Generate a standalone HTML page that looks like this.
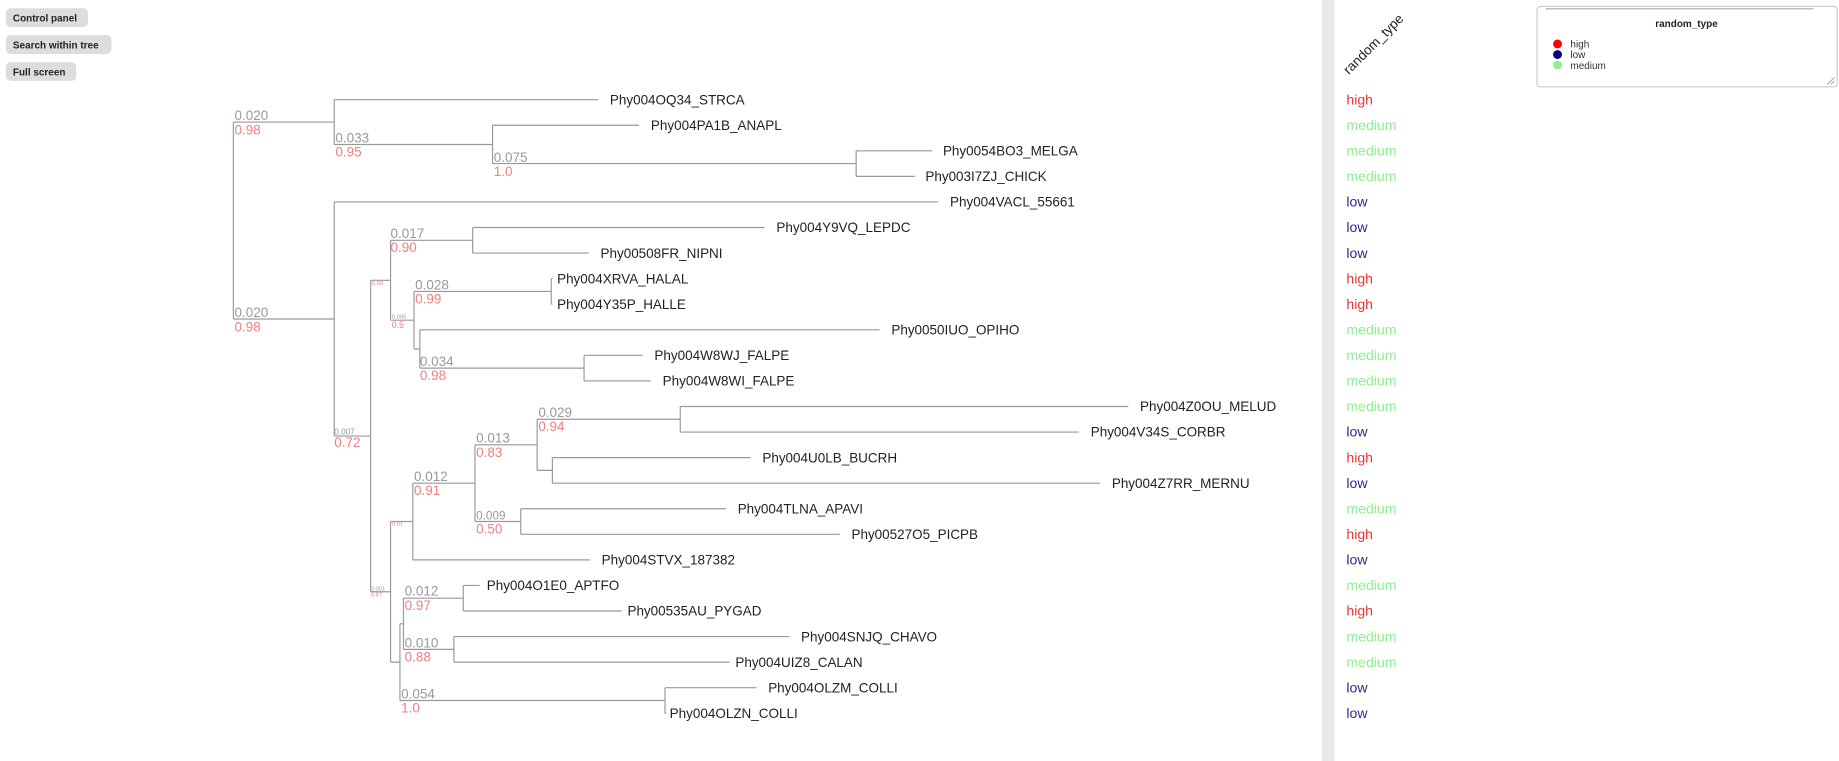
<!DOCTYPE html>
<html><head><meta charset="utf-8"><style>
html,body{margin:0;padding:0;background:#fff;width:1839px;height:761px;overflow:hidden}
svg{display:block}
text{font-family:"Liberation Sans",Arial,sans-serif}
.lf{font-size:11.5px;fill:#222}
.g{font-size:11.5px;fill:#999}
.r{font-size:11.5px;fill:#f08080}
.v{font-size:12px}
</style></head><body>
<svg width="1839" height="761" viewBox="0 0 1568 648.9" preserveAspectRatio="none">
<rect x="5" y="7" width="70" height="16" rx="4" fill="#ddd"/>
<text x="11" y="18.5" font-size="8.5" font-weight="bold" fill="#222">Control panel</text>
<rect x="5" y="30" width="90" height="16" rx="4" fill="#ddd"/>
<text x="11" y="41.5" font-size="8.5" font-weight="bold" fill="#222">Search within tree</text>
<rect x="5" y="53" width="60" height="16" rx="4" fill="#ddd"/>
<text x="11" y="64.5" font-size="8.5" font-weight="bold" fill="#222">Full screen</text>

<g stroke="#999" stroke-width="1" fill="none">
<path d="M199,104.1V272M199,104.1H285M199,272H285"/>
<path d="M285,85V123.2M285,85H510M285,123.2H420"/>
<path d="M420,106.8V139.5M420,106.8H545M420,139.5H730"/>
<path d="M730,128.6V150.4M730,128.6H795M730,150.4H780"/>
<path d="M285,172.2V371.8M285,172.2H800M285,371.8H316"/>
<path d="M316,239V504.6M316,239H333M316,504.6H333"/>
<path d="M333,204.9V273M333,204.9H403M333,273H353"/>
<path d="M403,194V215.8M403,194H652M403,215.8H502"/>
<path d="M353,248.5V297.6M353,248.5H470M353,297.6H358"/>
<path d="M470,237.6V259.4M470,237.6H471M470,259.4H471"/>
<path d="M358,281.2V313.9M358,281.2H750M358,313.9H498"/>
<path d="M498,303V324.8M498,303H548M498,324.8H555"/>
<path d="M333,444.7V564.6M333,444.7H352M333,564.6H341"/>
<path d="M352,412V477.4M352,412H405M352,477.4H503"/>
<path d="M405,379.3V444.7M405,379.3H458M405,444.7H444"/>
<path d="M458,357.5V401.1M458,357.5H580M458,401.1H471"/>
<path d="M580,346.6V368.4M580,346.6H962M580,368.4H920"/>
<path d="M471,390.2V412M471,390.2H640M471,412H938"/>
<path d="M444,433.8V455.6M444,433.8H619M444,455.6H716"/>
<path d="M341,531.9V597.3M341,531.9H344M341,597.3H567"/>
<path d="M344,510.1V553.7M344,510.1H395M344,553.7H387"/>
<path d="M395,499.2V521M395,499.2H409M395,521H530"/>
<path d="M387,542.8V564.6M387,542.8H673M387,564.6H622"/>
<path d="M567,586.4V608.2M567,586.4H645M567,608.2H568"/>
</g>

<g class="lf">
<text x="520" y="89">Phy004OQ34_STRCA</text>
<text x="555" y="110.8">Phy004PA1B_ANAPL</text>
<text x="804" y="132.6">Phy0054BO3_MELGA</text>
<text x="789" y="154.4">Phy003I7ZJ_CHICK</text>
<text x="810" y="176.2">Phy004VACL_55661</text>
<text x="662" y="198">Phy004Y9VQ_LEPDC</text>
<text x="512" y="219.8">Phy00508FR_NIPNI</text>
<text x="475" y="241.6">Phy004XRVA_HALAL</text>
<text x="475" y="263.4">Phy004Y35P_HALLE</text>
<text x="760" y="285.2">Phy0050IUO_OPIHO</text>
<text x="558" y="307">Phy004W8WJ_FALPE</text>
<text x="565" y="328.8">Phy004W8WI_FALPE</text>
<text x="972" y="350.6">Phy004Z0OU_MELUD</text>
<text x="930" y="372.4">Phy004V34S_CORBR</text>
<text x="650" y="394.2">Phy004U0LB_BUCRH</text>
<text x="948" y="416">Phy004Z7RR_MERNU</text>
<text x="629" y="437.8">Phy004TLNA_APAVI</text>
<text x="726" y="459.6">Phy00527O5_PICPB</text>
<text x="513" y="481.4">Phy004STVX_187382</text>
<text x="415" y="503.2">Phy004O1E0_APTFO</text>
<text x="535" y="525">Phy00535AU_PYGAD</text>
<text x="683" y="546.8">Phy004SNJQ_CHAVO</text>
<text x="627" y="568.6">Phy004UIZ8_CALAN</text>
<text x="655" y="590.4">Phy004OLZM_COLLI</text>
<text x="571" y="612.2">Phy004OLZN_COLLI</text>
</g>

<text class="g" x="200" y="102.5">0.020</text><text class="r" x="200" y="114.5">0.98</text>
<text class="g" x="200" y="270.5">0.020</text><text class="r" x="200" y="282.5">0.98</text>
<text class="g" x="286" y="121.5">0.033</text><text class="r" x="286" y="133.5">0.95</text>
<text class="g" x="421" y="138">0.075</text><text class="r" x="421" y="150">1.0</text>
<text x="285" y="370.5" font-size="7" fill="#999">0.007</text><text class="r" x="285" y="381">0.72</text>
<text x="317" y="243" font-size="5" fill="#f08080">0.60</text>
<text class="g" x="333" y="203">0.017</text><text class="r" x="333" y="215">0.90</text>
<text x="334" y="271.5" font-size="5" fill="#999">0.005</text><text x="334" y="279.5" font-size="7.5" fill="#f08080">0.5</text>
<text class="g" x="354" y="247">0.028</text><text class="r" x="354" y="259">0.99</text>
<text class="g" x="358" y="312">0.034</text><text class="r" x="358" y="324">0.98</text>
<text x="316" y="503.5" font-size="5" fill="#999">0.001</text><text x="316" y="508.5" font-size="5" fill="#f08080">0.87</text>
<text x="334" y="448" font-size="5" fill="#f08080">0.81</text>
<text class="g" x="353" y="410">0.012</text><text class="r" x="353" y="422">0.91</text>
<text class="g" x="406" y="377.5">0.013</text><text class="r" x="406" y="389.5">0.83</text>
<text class="g" x="459" y="355.5">0.029</text><text class="r" x="459" y="367.5">0.94</text>
<text x="406" y="443" font-size="10" fill="#999">0.009</text><text class="r" x="406" y="455">0.50</text>
<text class="g" x="345" y="508">0.012</text><text class="r" x="345" y="520">0.97</text>
<text class="g" x="345" y="552">0.010</text><text class="r" x="345" y="564">0.88</text>
<text class="g" x="342" y="595.5">0.054</text><text class="r" x="342" y="607.5">1.0</text>

<rect x="1127" y="0" width="11" height="649" fill="#e8e8e8"/>
<text x="1150" y="64" font-size="11.5" fill="#222" transform="rotate(-45 1150 64)">random_type</text>
<g class="v">
<text x="1148" y="89" fill="#ee3333">high</text>
<text x="1148" y="110.8" fill="#90ee90">medium</text>
<text x="1148" y="132.6" fill="#90ee90">medium</text>
<text x="1148" y="154.4" fill="#90ee90">medium</text>
<text x="1148" y="176.2" fill="#2a2a8a">low</text>
<text x="1148" y="198" fill="#2a2a8a">low</text>
<text x="1148" y="219.8" fill="#2a2a8a">low</text>
<text x="1148" y="241.6" fill="#ee3333">high</text>
<text x="1148" y="263.4" fill="#ee3333">high</text>
<text x="1148" y="285.2" fill="#90ee90">medium</text>
<text x="1148" y="307" fill="#90ee90">medium</text>
<text x="1148" y="328.8" fill="#90ee90">medium</text>
<text x="1148" y="350.6" fill="#90ee90">medium</text>
<text x="1148" y="372.4" fill="#2a2a8a">low</text>
<text x="1148" y="394.2" fill="#ee3333">high</text>
<text x="1148" y="416" fill="#2a2a8a">low</text>
<text x="1148" y="437.8" fill="#90ee90">medium</text>
<text x="1148" y="459.6" fill="#ee3333">high</text>
<text x="1148" y="481.4" fill="#2a2a8a">low</text>
<text x="1148" y="503.2" fill="#90ee90">medium</text>
<text x="1148" y="525" fill="#ee3333">high</text>
<text x="1148" y="546.8" fill="#90ee90">medium</text>
<text x="1148" y="568.6" fill="#90ee90">medium</text>
<text x="1148" y="590.4" fill="#2a2a8a">low</text>
<text x="1148" y="612.2" fill="#2a2a8a">low</text>
</g>

<rect x="1310.5" y="5.5" width="256" height="68.5" rx="3" fill="#fff" stroke="#ccc"/>
<line x1="1318" y1="7.5" x2="1546" y2="7.5" stroke="#aaa"/>
<text x="1438" y="23" font-size="8.5" font-weight="bold" fill="#222" text-anchor="middle">random_type</text>
<circle cx="1328" cy="37.5" r="3.8" fill="#ff0000"/>
<circle cx="1328" cy="46.5" r="3.8" fill="#000080"/>
<circle cx="1328" cy="55.5" r="3.8" fill="#90ee90"/>
<text x="1339" y="40.5" font-size="8.5" fill="#333">high</text>
<text x="1339" y="49.5" font-size="8.5" fill="#333">low</text>
<text x="1339" y="59" font-size="8.5" fill="#333">medium</text>
<path d="M1558,72L1564,66M1561,72L1564,69" stroke="#999" stroke-width="0.7"/>
</svg>
</body></html>
